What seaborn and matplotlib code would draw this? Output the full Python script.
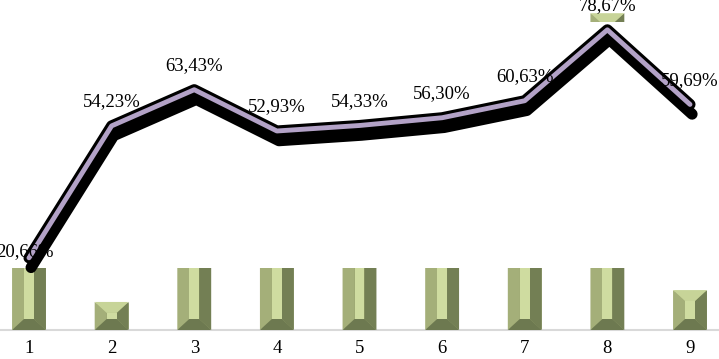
import matplotlib
matplotlib.use("Agg")
import matplotlib.pyplot as plt
from matplotlib import patheffects as pe
import numpy as np
import pandas as pd
import seaborn as sns

# data
categories = ["1", "2", "3", "4", "5", "6", "7", "8", "9"]
line_values = [20.66, 54.23, 63.43, 52.93, 54.33, 56.30, 60.63, 78.67, 59.69]
bar_values = [60, 8.5, 60, 60, 60, 60, 60, 96, 12.1]  # hidden bar tops are guesses

sns.set_theme(style="white")
plt.rcParams["font.family"] = ["Liberation Serif", "DejaVu Serif"]

W, H = 719, 359
fig = plt.figure(figsize=(W / 100, H / 100), dpi=100)
fig.patch.set_facecolor("white")

# bar axes: whole width, baseline at pixel row 330
ax_bar = fig.add_axes([0, (H - 330) / H, 1, 330 / H])
df_bar = pd.DataFrame({"cat": categories, "val": bar_values})
sns.barplot(data=df_bar, x="cat", y="val", order=categories, width=0.41,
            color="#9aa56f", saturation=1, ax=ax_bar, zorder=2)
ax_bar.set_xlim(-0.351, 8.351)
ax_bar.set_ylim(0, 100)

# bevel facets on each bar
px_x = (8.351 + 0.351) / W
px_y = 100 / 330
for p in list(ax_bar.patches):
    x0, w, h = p.get_x(), p.get_width(), p.get_height()
    x1 = x0 + w
    bx = min(12 * px_x, w / 2)
    by = min(11 * px_y, h / 2)
    facets = [
        ([x0, x0 + bx, x0 + bx, x0], [0, by, h - by, h], "#a4af79"),
        ([x1, x1 - bx, x1 - bx, x1], [0, by, h - by, h], "#737f54"),
        ([x0, x1, x1 - bx, x0 + bx], [h, h, h - by, h - by], "#c7d498"),
        ([x0, x1, x1 - bx, x0 + bx], [0, 0, by, by], "#6d7950"),
        ([x0 + bx, x1 - bx, x1 - bx, x0 + bx], [by, by, h - by, h - by], "#cfdca0"),
    ]
    for xs, ys, c in facets:
        ax_bar.fill(xs, ys, color=c, lw=0, zorder=3)

ax_bar.set_xlabel("")
ax_bar.set_ylabel("")
ax_bar.set_yticks([])
ax_bar.tick_params(axis="x", length=0, pad=7, labelsize=13.5, colors="black")
for s in ["left", "right", "top"]:
    ax_bar.spines[s].set_visible(False)
ax_bar.spines["bottom"].set_color("#d9d9d9")
ax_bar.spines["bottom"].set_linewidth(1.5)
ax_bar.set_facecolor("none")

# line axes: white panel laid over the bars
ax_line = fig.add_axes([0, (H - 268) / H, 1, (268 - 22) / H])
ax_line.set_facecolor("white")
pos = np.arange(len(categories))
sns.lineplot(x=pos, y=line_values, ax=ax_line, color="#b3a2c7", lw=3.5,
             clip_on=False, zorder=5,
             path_effects=[pe.SimpleLineShadow(offset=(1.5, -7), shadow_color="black",
                                               alpha=1, rho=1, linewidth=8),
                           pe.Stroke(linewidth=8, foreground="black"),
                           pe.Normal()])
ax_line.set_xlim(-0.351, 8.351)
ax_line.set_ylim(18.07, 80.66)
ax_line.set_xticks([])
ax_line.set_yticks([])
for s in ax_line.spines.values():
    s.set_visible(False)

for i, v in enumerate(line_values):
    off = (-4, 6) if i == 0 else (0, 24)
    ax_line.annotate(f"{v:.2f}".replace(".", ",") + "%", (i, v), xytext=off,
                     textcoords="offset pixels", ha="center", va="center",
                     fontsize=13.5, color="black", zorder=6)

fig.savefig("out.png", dpi=100)
